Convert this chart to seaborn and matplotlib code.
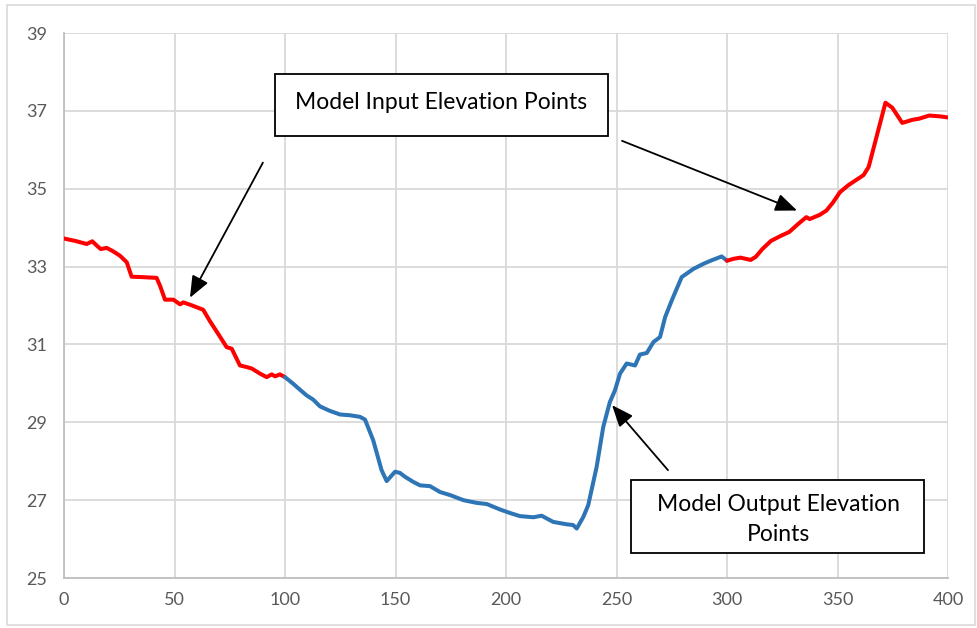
import matplotlib
matplotlib.use("Agg")
import matplotlib.pyplot as plt
import seaborn as sns
import pandas as pd
from matplotlib.patches import Rectangle

# ---- data ----
red1_x = [0, 5, 10.3, 12.8, 14.8, 16.6, 19.3, 22, 25.3, 28.4, 30.6, 35, 41.9, 43.5, 45.7, 49.5,
          52.5, 54, 58, 63, 66, 70, 73.6, 75.9, 79.6, 82.6, 85, 88.7, 91.7, 94, 95.5, 97.7, 100]
red1_y = [33.72, 33.66, 33.58, 33.65, 33.54, 33.45, 33.48, 33.4, 33.28, 33.11, 32.74, 32.73, 32.71,
          32.5, 32.15, 32.15, 32.03, 32.08, 32.0, 31.89, 31.6, 31.25, 30.93, 30.89, 30.46, 30.42,
          30.38, 30.25, 30.16, 30.23, 30.18, 30.23, 30.16]

blue_x = [100, 103.7, 106.5, 109.8, 112.8, 115.8, 120, 124.9, 129.4, 133.9, 136.2, 139.9, 143.7,
          146, 149.8, 152, 154.3, 158, 161.1, 165.6, 170.1, 174.7, 180.7, 186.7, 191.3, 197.3,
          201.8, 206.3, 212.4, 216.1, 221.4, 227.4, 230.4, 232, 235, 237.2, 241, 244, 247, 249.3,
          251.6, 254.6, 258.4, 260.6, 263.7, 266.7, 269.7, 272, 275, 279.5, 284.8, 289.3, 293,
          297.6, 300]
blue_y = [30.16, 29.99, 29.85, 29.69, 29.58, 29.41, 29.3, 29.2, 29.18, 29.14, 29.07, 28.54, 27.77,
          27.49, 27.73, 27.7, 27.6, 27.47, 27.38, 27.36, 27.21, 27.13, 27.0, 26.93, 26.9, 26.76,
          26.67, 26.59, 26.56, 26.6, 26.44, 26.38, 26.36, 26.27, 26.57, 26.87, 27.85, 28.88, 29.52,
          29.82, 30.25, 30.51, 30.46, 30.74, 30.78, 31.06, 31.19, 31.7, 32.13, 32.73, 32.94, 33.07,
          33.16, 33.26, 33.15]

red2_x = [300, 303, 306.1, 310.7, 313, 316, 319.9, 324.4, 328.2, 332.1, 335.9, 337.4, 342, 345,
          348, 351.1, 354.9, 361.8, 364.1, 367.1, 371.7, 374.8, 379.3, 383.9, 387, 391.5, 396.1, 400]
red2_y = [33.15, 33.2, 33.23, 33.17, 33.25, 33.45, 33.66, 33.79, 33.89, 34.09, 34.27, 34.22, 34.33,
          34.44, 34.65, 34.91, 35.09, 35.35, 35.56, 36.21, 37.21, 37.08, 36.69, 36.77, 36.8, 36.88,
          36.86, 36.83]

x_ticks = [0, 50, 100, 150, 200, 250, 300, 350, 400]
y_ticks = [25, 27, 29, 31, 33, 35, 37, 39]

input_label = "Model Input Elevation Points"
output_label = "Model Output Elevation\nPoints"

RED = "#FF0000"
BLUE = "#2E75B6"

sns.set_theme(style="whitegrid")
plt.rcParams["font.family"] = ["Lato", "DejaVu Sans"]

fig = plt.figure(figsize=(9.78, 6.28), dpi=100)
fig.patch.set_facecolor("white")
ax = fig.add_axes([64 / 978, 1 - 578 / 628, (948 - 64) / 978, (578 - 33) / 628])
ax.set_facecolor("white")

segments = [(red1_x, red1_y, RED), (blue_x, blue_y, BLUE), (red2_x, red2_y, RED)]
for xs, ys, col in segments:
    df = pd.DataFrame({"x": xs, "y": ys})
    sns.lineplot(data=df, x="x", y="y", ax=ax, color=col, linewidth=2.9,
                 sort=False, estimator=None, zorder=3)

ax.set_xlim(0, 400)
ax.set_ylim(25, 39)
ax.set_xticks(x_ticks)
ax.set_yticks(y_ticks)
ax.set_xlabel("")
ax.set_ylabel("")
ax.grid(True, color="#d9d9d9", linewidth=1.3)
for s in ["top", "right"]:
    ax.spines[s].set_visible(False)
for s in ["left", "bottom"]:
    ax.spines[s].set_visible(True)
    ax.spines[s].set_color("#bfbfbf")
    ax.spines[s].set_linewidth(1.3)
ax.tick_params(axis="both", length=0, labelsize=13, labelcolor="#595959")
ax.tick_params(axis="y", pad=12)
ax.tick_params(axis="x", pad=10)

# annotation boxes
box_kw = dict(facecolor="white", edgecolor="black", linewidth=1.3, zorder=5)
ax.add_patch(Rectangle((95.5, 36.36), 246.2 - 95.5, 37.95 - 36.36, **box_kw))
ax.text(170.8, 37.22, input_label, ha="center", va="center", fontsize=16.5,
        color="black", zorder=6)
ax.add_patch(Rectangle((256.6, 25.64), 389.1 - 256.6, 27.51 - 25.64, **box_kw))
ax.text(323.1, 26.5, output_label, ha="center", va="center",
        fontsize=16.5, color="black", zorder=6, linespacing=1.5)

arrow_kw = dict(arrowstyle="-|>,head_length=1.1,head_width=0.45", color="black", lw=1.3,
                shrinkA=0, shrinkB=0)
ax.annotate("", xy=(57.0, 32.2), xytext=(90.0, 35.67), arrowprops=arrow_kw, zorder=7)
ax.annotate("", xy=(331.7, 34.44), xytext=(252.5, 36.23), arrowprops=arrow_kw, zorder=7)
ax.annotate("", xy=(248.0, 29.44), xytext=(273.3, 27.77), arrowprops=arrow_kw, zorder=7)

# outer chart border
fig.patches.append(Rectangle((7 / 978, 3 / 628), 968 / 978, 620 / 628, transform=fig.transFigure,
                             fill=False, edgecolor="#d9d9d9", linewidth=1.2))

fig.savefig("out.png", dpi=100)
